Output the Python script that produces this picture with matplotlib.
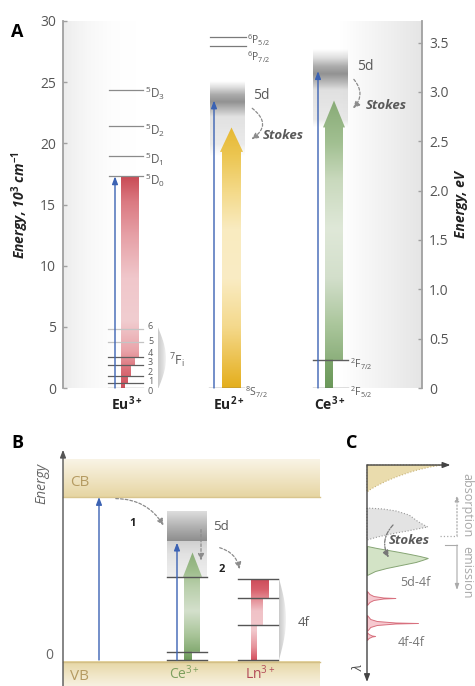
import numpy as np
import matplotlib
matplotlib.use('Agg')
import matplotlib.pyplot as plt
from matplotlib.patches import Polygon, FancyArrowPatch
from matplotlib.colors import to_rgba

plt.rcParams['font.family'] = ['Open Sans', 'DejaVu Sans']
plt.rcParams['mathtext.fontset'] = 'custom'
plt.rcParams['mathtext.rm'] = 'Open Sans'
plt.rcParams['mathtext.it'] = 'Open Sans:italic'
plt.rcParams['mathtext.bf'] = 'Open Sans:bold'

# ---------------------------------------------------------------- data
CM_PER_EV = 8.0655                       # 10^3 cm^-1 per eV
left_ticks = [0, 5, 10, 15, 20, 25, 30]
left_tick_labels = ['0', '5', '10', '15', '20', '25', '30']
right_ticks = [0, 0.5, 1.0, 1.5, 2.0, 2.5, 3.0, 3.5]
right_tick_labels = ['0', '0.5', '1.0', '1.5', '2.0', '2.5', '3.0', '3.5']

ion_labels_A = [r'Eu$^{\mathbf{3+}}$', r'Eu$^{\mathbf{2+}}$', r'Ce$^{\mathbf{3+}}$']

eu3_5D_levels = [17.3, 19.0, 21.4, 24.4]
eu3_5D_labels = [r'$^{5}$D$_{0}$', r'$^{5}$D$_{1}$', r'$^{5}$D$_{2}$', r'$^{5}$D$_{3}$']
eu3_7F_levels = [0.0, 0.4, 0.95, 1.85, 2.5, 3.75, 4.85]
eu3_7F_labels = ['0', '1', '2', '3', '4', '5', '6']

eu2_6P_levels = [28.7, 27.95]
eu2_6P_labels = [r'$^{6}$P$_{5/2}$', r'$^{6}$P$_{7/2}$']
eu2_ground = 0.0
eu2_ground_label = r'$^{8}$S$_{7/2}$'
eu2_5d_abs = 23.5
eu2_em_top = 21.3

ce_2F_levels = [0.0, 2.3]
ce_2F_labels = [r'$^{2}$F$_{5/2}$', r'$^{2}$F$_{7/2}$']
ce_5d_abs = 25.9
ce_em_top = 23.5

# panel B (schematic energies, arbitrary units)
B_gap = 10.0
B_cb_top = 12.3
B_ce_levels = [0.0, 0.5, 5.1]
B_ce_5d = [7.3, 9.1]
B_ce_abs = 7.2
B_ce_em = 6.6
B_ln_levels = [0.0, 2.15, 3.8, 5.0]

# panel C (wavelength, intensity)
tan_lam = [0, 2, 5, 8, 12, 16, 20, 24, 27]
tan_I = [0.93, 0.78, 0.62, 0.5, 0.36, 0.24, 0.14, 0.05, 0.0]
gray_lam = [43, 44, 46, 48, 50, 53, 56, 59, 62, 64, 66, 68, 70, 72, 75]
gray_I = [0.0, 0.2, 0.36, 0.44, 0.52, 0.57, 0.62, 0.68, 0.75, 0.62, 0.5, 0.36, 0.24, 0.13, 0.0]
green_lam = [81, 83, 85, 87, 89, 91, 93, 95, 97, 100, 103, 106, 110]
green_I = [0.0, 0.12, 0.26, 0.4, 0.53, 0.65, 0.75, 0.68, 0.6, 0.42, 0.24, 0.1, 0.0]
red1_lam = [126, 129, 131, 132.5, 133, 133.5, 135, 137, 140]
red1_I = [0.0, 0.03, 0.08, 0.2, 0.35, 0.2, 0.08, 0.03, 0.0]
red2_lam = [150, 154, 156, 157.5, 158, 158.5, 160, 162, 166]
red2_I = [0.0, 0.04, 0.12, 0.35, 0.63, 0.35, 0.12, 0.04, 0.0]
red3_lam = [167, 169, 170.5, 171, 171.5, 173, 175]
red3_I = [0.0, 0.02, 0.06, 0.1, 0.06, 0.02, 0.0]

# ---------------------------------------------------------------- helpers
W, H = 475, 686
fig = plt.figure(figsize=(W / 100, H / 100), dpi=100)


def fx(px):
    return px / W


def fy(py):
    return 1 - py / H


def grad(ax, x0, x1, y0, y1, stops, clip=None, z=2, horizontal=False):
    n = 300
    pos = np.array([p for p, _ in stops], float)
    cols = np.array([to_rgba(c) if not isinstance(c, tuple) else c for _, c in stops])
    if horizontal:
        vals = np.linspace(x0, x1, n)
        img = np.zeros((1, n, 4))
        for k in range(4):
            img[0, :, k] = np.interp(vals, pos, cols[:, k])
    else:
        vals = np.linspace(y0, y1, n)
        img = np.zeros((n, 1, 4))
        for k in range(4):
            img[:, 0, k] = np.interp(vals, pos, cols[:, k])
    im = ax.imshow(img, extent=(x0, x1, y0, y1), origin='lower', aspect='auto',
                   interpolation='bilinear', zorder=z)
    if clip is not None:
        p = Polygon(clip, closed=True, transform=ax.transData, fc='none', ec='none')
        im.set_clip_path(p)
    return im


def arrow(ax, x0, y0, x1, y1, color='#3b62b3', lw=1.0, ls='-', z=5, hl=0.45, hw=0.17):
    ax.annotate('', xy=(x1, y1), xytext=(x0, y0),
                arrowprops=dict(arrowstyle='-|>,head_length=%g,head_width=%g' % (hl, hw),
                                color=color, lw=lw, ls=ls, shrinkA=0, shrinkB=0),
                zorder=z, annotation_clip=False)


def curved(ax, p0, p1, rad, color='#8c8c8c', lw=0.9, ls=(0, (2.2, 1.6)), z=6):
    a = FancyArrowPatch(p0, p1, connectionstyle='arc3,rad=%g' % rad,
                        arrowstyle='-|>,head_length=4,head_width=1.8', mutation_scale=1,
                        color=color, lw=lw, linestyle=ls, zorder=z, clip_on=False)
    ax.add_patch(a)


def gray_a(a):
    return (0.42, 0.42, 0.42, a)


def arrow_poly(xl, xr, y0, yb, xhl, xhr, ytip, narrow=None):
    xc = (xhl + xhr) / 2
    pts = []
    if narrow is not None:
        nxr, ny = narrow
        pts += [(xl, y0), (nxr, y0), (nxr, ny), (xr, ny)]
    else:
        pts += [(xl, y0), (xr, y0)]
    pts += [(xr, yb), (xhr, yb), (xc, ytip), (xhl, yb), (xl, yb)]
    return pts


def bracket(ax, x0, ytop, ybot, bulge, z=2):
    t = np.linspace(0, 1, 40)
    xs = x0 + bulge * np.sin(np.pi * t)
    ys = ytop - (ytop - ybot) * t
    pts = list(zip(xs, ys))
    grad(ax, x0, x0 + bulge, ybot, ytop,
         [(x0, '#c9c9c9'), (x0 + bulge * 0.6, '#dedede'), (x0 + bulge, '#f4f4f4')],
         clip=pts, z=z, horizontal=True)


GRAY_TXT = '#5a5a5a'

# ================================================================ panel A
axA = fig.add_axes([fx(63), fy(388), (422 - 63) / W, (388 - 21) / H])
axA.patch.set_alpha(0)

# backgrounds
grad(axA, 63, 136, 0, 30, [(63, (0.93, 0.93, 0.93, 1)), (136, (1, 1, 1, 0))], z=0, horizontal=True)
grad(axA, 340, 422, 0, 30, [(340, (0.9, 0.9, 0.9, 0)), (422, (0.9, 0.9, 0.9, 1))], z=0, horizontal=True)

# --- Eu3+
for lv, lab in zip(eu3_5D_levels, eu3_5D_labels):
    axA.plot([109, 143], [lv, lv], color='#8a8a8a', lw=0.9, zorder=4)
    axA.text(145, lv - 0.3, lab, fontsize=8.5, color=GRAY_TXT, va='center', ha='left')

f7_label_pos = [-0.3, 0.5, 1.25, 2.05, 2.8, 3.8, 5.0]
step_right = [125, 128, 131, 135, 139]
red_pts = [(121, 0)]
for i, xr in enumerate(step_right):
    lo = eu3_7F_levels[i]
    hi = eu3_7F_levels[i + 1] if i + 1 < 5 else eu3_5D_levels[0]
    red_pts += [(xr, lo), (xr, hi)]
red_pts += [(121, eu3_5D_levels[0])]
grad(axA, 121, 139, 0, eu3_5D_levels[0],
     [(0, '#cf4f5b'), (1.5, '#db6f78'), (3, '#e9a3a9'), (5.5, '#f1cdd0'), (9, '#f0c7cb'),
      (12.5, '#e6a0a6'), (15.2, '#db7a82'), (17.3, '#c94b55')], clip=red_pts, z=3)

for i, (lv, lab) in enumerate(zip(eu3_7F_levels, eu3_7F_labels)):
    c = '#c4c4c4' if i >= 5 else '#5e5e5e'
    axA.plot([108, 143], [lv, lv], color=c, lw=0.9, zorder=4)
    axA.text(148, f7_label_pos[i], lab, fontsize=6.5, color=GRAY_TXT, ha='left', va='center')
bracket(axA, 158, eu3_7F_levels[-1] + 0.1, eu3_7F_levels[0] - 0.1, 8)
axA.text(169, 2.2, r'$^{7}$F$_{\mathrm{i}}$', fontsize=9, color=GRAY_TXT, ha='left', va='center')
arrow(axA, 115, 0, 115, eu3_5D_levels[0])

# --- Eu2+
for lv, lab, off in zip(eu2_6P_levels, eu2_6P_labels, [0.3, 0.9]):
    axA.plot([210, 246], [lv, lv], color='#7a7a7a', lw=0.9, zorder=4)
    axA.text(247, lv - off, lab, fontsize=7.5, color=GRAY_TXT, ha='left', va='center')
axA.plot([209, 244], [eu2_ground, eu2_ground], color='#6a6a6a', lw=1.0, zorder=4)
axA.text(245, eu2_ground - 0.35, eu2_ground_label, fontsize=7.5, color=GRAY_TXT, ha='left', va='center')
grad(axA, 210, 245, 19.0, 25.1,
     [(19.0, gray_a(0)), (20.0, gray_a(0.14)), (22.2, gray_a(0.2)), (22.8, gray_a(0.47)),
      (23.4, gray_a(0.74)), (24.0, gray_a(0.57)), (24.6, gray_a(0.22)), (25.1, gray_a(0))], z=2)
arrow(axA, 214, 0, 214, eu2_5d_abs)
grad(axA, 219, 244, 0, eu2_em_top,
     [(0, '#e4ae1c'), (2, '#ebbf48'), (5, '#f4d98c'), (9, '#faecc4'), (13, '#f9ebc0'),
      (16, '#f4da8a'), (19, '#ecc652'), (21.3, '#e6b832')],
     clip=arrow_poly(222, 241, 0, 19.3, 220, 243, eu2_em_top), z=3)
curved(axA, (250, 23.0), (249, 20.2), -0.75)
axA.text(253, 23.9, '5d', fontsize=10, color=GRAY_TXT, ha='left', va='center')
axA.text(263, 20.6, 'Stokes', fontsize=9.5, color=GRAY_TXT, ha='left', va='center',
         fontweight='bold', style='italic')

# --- Ce3+
grad(axA, 313, 348, 21.3, 27.6,
     [(21.3, gray_a(0)), (21.9, gray_a(0.15)), (24.3, gray_a(0.21)), (24.9, gray_a(0.47)),
      (25.6, gray_a(0.74)), (26.2, gray_a(0.57)), (26.9, gray_a(0.22)), (27.6, gray_a(0))], z=2)
grad(axA, 322, 346, 0, ce_em_top,
     [(0, '#6b995a'), (2.3, '#7ea66c'), (2.35, '#8db07d'), (5, '#a9c59a'), (9, '#d3dfcb'),
      (13, '#dfe8d8'), (17, '#c9d9bd'), (20, '#a2c092'), (23.5, '#88ab76')],
     clip=arrow_poly(325, 343, 0, 21.3, 323, 345, ce_em_top, narrow=(333, ce_2F_levels[1])), z=3)
for lv, lab in zip(ce_2F_levels, ce_2F_labels):
    axA.plot([313, 348], [lv, lv], color='#5e5e5e', lw=1.0, zorder=4)
    axA.text(350, lv - 0.35, lab, fontsize=7.5, color=GRAY_TXT, ha='left', va='center')
arrow(axA, 318, 0, 318, ce_5d_abs)
curved(axA, (352, 25.4), (351, 22.7), -0.5)
axA.text(357, 26.3, '5d', fontsize=10, color=GRAY_TXT, ha='left', va='center')
axA.text(366, 23.1, 'Stokes', fontsize=9.5, color=GRAY_TXT, ha='left', va='center',
         fontweight='bold', style='italic')

for xc, lab in zip([127, 229, 330], ion_labels_A):
    axA.text(xc, -1.25, lab, fontsize=10, fontweight='bold', color='#222', ha='center',
             va='center', clip_on=False)

axA.set_xlim(63, 422)
axA.set_ylim(0, 30)
for s in ['top', 'bottom', 'right']:
    axA.spines[s].set_visible(False)
axA.spines['left'].set_color('#a0a0a0')
axA.spines['left'].set_linewidth(1.3)
axA.set_xticks([])
axA.set_yticks(left_ticks)
axA.set_yticklabels(left_tick_labels)
axA.tick_params(axis='y', direction='in', length=3, width=1, color='#a0a0a0',
                labelcolor='#555', labelsize=10, pad=5)

axR = axA.twinx()
axR.set_ylim(0, 30 / CM_PER_EV)
for s in ['top', 'bottom', 'left']:
    axR.spines[s].set_visible(False)
axR.spines['right'].set_color('#a0a0a0')
axR.spines['right'].set_linewidth(1.3)
axR.set_yticks(right_ticks)
axR.set_yticklabels(right_tick_labels)
axR.tick_params(axis='y', direction='in', length=3, width=1, color='#a0a0a0',
                labelcolor='#555', labelsize=10, pad=5)

fig.text(fx(20), fy(205), r'Energy, 10$^{\mathbf{3}}$ cm$^{\mathbf{-1}}$', rotation=90,
         fontsize=10, fontweight='bold', style='italic', ha='center', va='center', color='#222')
fig.text(fx(461), fy(205), 'Energy, eV', rotation=90, fontsize=10, fontweight='bold',
         style='italic', ha='center', va='center', color='#222')
fig.text(fx(17), fy(32), 'A', fontsize=13, fontweight='bold', ha='center', va='center')
fig.text(fx(17), fy(443), 'B', fontsize=13, fontweight='bold', ha='center', va='center')
fig.text(fx(352), fy(443), 'C', fontsize=13, fontweight='bold', ha='center', va='center')

# ================================================================ panel B
U = 16.3
axB = fig.add_axes([0, 0, 330 / W, (686 - 430) / H])
axB.axis('off')
yB0, yB1 = (660 - 686) / U, (660 - 430) / U

grad(axB, 63, 320, yB0, -0.1, [(yB0, '#f7f1e1'), (-1.0, '#f1e7c9'), (-0.1, '#e6d6a4')], z=1)
axB.plot([63, 320], [-0.1, -0.1], color='#d3bf86', lw=1.0, zorder=2)
grad(axB, 63, 320, B_gap, B_cb_top, [(B_gap, '#e6d5a2'), (11.0, '#efe3c0'), (B_cb_top, '#f9f4e6')], z=1)
axB.plot([63, 320], [B_gap, B_gap], color='#d8c58e', lw=1.0, zorder=2)
arrow(axB, 63, yB0, 63, 12.9, color='#555', lw=1.0, z=6)
axB.text(42, 10.86, 'Energy', rotation=90, style='italic', color='#666', fontsize=10,
         ha='center', va='center')
axB.text(53, 0.25, '0', ha='right', va='center', color='#666', fontsize=10)
axB.text(70, 10.92, 'CB', color='#b59b62', fontsize=11, ha='left', va='center')
axB.text(70, -1.04, 'VB', color='#b59b62', fontsize=11, ha='left', va='center')

arrow(axB, 99, 0, 99, B_gap)
curved(axB, (113, 9.9), (165, 8.1), -0.3)
axB.text(133, 8.4, '1', fontsize=8, fontweight='bold', ha='center', va='center', color='#222')

grad(axB, 167, 207, B_ce_5d[0], B_ce_5d[1],
     [(B_ce_5d[0], '#8d8d8d'), (8.2, '#b3b3b3'), (B_ce_5d[1], '#dedede')], z=2)
grad(axB, 167, 207, B_ce_levels[2], B_ce_5d[0],
     [(B_ce_levels[2], '#efefef'), (6.5, '#e2e2e2'), (B_ce_5d[0], '#d0d0d0')], z=2)
grad(axB, 182, 203, 0, B_ce_em,
     [(0, '#6b995a'), (0.5, '#84aa72'), (1.5, '#a8c498'), (3.0, '#d4e0cc'), (4.5, '#b9cfab'),
      (5.5, '#9ebd8c'), (6.6, '#8aad78')],
     clip=arrow_poly(184, 200, 0, B_ce_levels[2], 183, 202, B_ce_em, narrow=(192, B_ce_levels[1])), z=3)
for lv in B_ce_levels:
    axB.plot([167, 207], [lv, lv], color='#555', lw=1.0, zorder=4)
arrow(axB, 177, 0, 177, B_ce_abs)
arrow(axB, 201, 8.0, 201, 6.1, color='#8c8c8c', lw=0.9, ls=(0, (2.2, 1.6)), hl=0.4, hw=0.18)
axB.text(213, 8.16, '5d', fontsize=9.5, color=GRAY_TXT, ha='left', va='center')
curved(axB, (217, 6.93), (240, 5.4), -0.35)
axB.text(222, 5.58, '2', fontsize=8, fontweight='bold', ha='center', va='center', color='#222')

ln_pts = [(251, 0), (257, 0), (257, B_ln_levels[1]), (263, B_ln_levels[1]), (263, B_ln_levels[2]),
          (269, B_ln_levels[2]), (269, B_ln_levels[3]), (251, B_ln_levels[3])]
grad(axB, 251, 269, 0, B_ln_levels[3],
     [(0, '#d4505e'), (0.8, '#e6949c'), (1.8, '#f2c8cc'), (3.0, '#f0c2c7'), (3.8, '#e3878f'),
      (4.3, '#d8606c'), (5.0, '#cc4a58')], clip=ln_pts, z=3)
for lv in B_ln_levels:
    axB.plot([238, 278], [lv, lv], color='#555', lw=1.0, zorder=4)
bracket(axB, 279, B_ln_levels[3], B_ln_levels[0], 7)
axB.text(298, 2.33, '4f', fontsize=9.5, color=GRAY_TXT, ha='left', va='center')
axB.text(185, -0.85, r'Ce$^{3+}$', color='#7d9f5e', fontsize=10, ha='center', va='center')
axB.text(260, -0.85, r'Ln$^{3+}$', color='#b24a58', fontsize=10, ha='center', va='center')

axB.set_xlim(0, 330)
axB.set_ylim(yB0, yB1)

# ================================================================ panel C
S = 81.0
axC = fig.add_axes([fx(330), 0, (475 - 330) / W, (686 - 430) / H])
axC.axis('off')

axC.fill_betweenx(tan_lam, 0, tan_I, facecolor='#eadcad', edgecolor='#c9b57c', lw=0.8, ls=':', zorder=2)
axC.fill_betweenx(gray_lam, 0, gray_I, facecolor='#e3e3e3', edgecolor='#9a9a9a', lw=0.8, ls=':', zorder=2)
axC.fill_betweenx(green_lam, 0, green_I, facecolor='#d3e3c6', edgecolor='#86a574', lw=0.7, zorder=2)
for lam, inten in [(red1_lam, red1_I), (red2_lam, red2_I), (red3_lam, red3_I)]:
    axC.fill_betweenx(lam, 0, inten, facecolor='#f6c9d0', edgecolor='#d8707e', lw=0.7, zorder=2)

arrow(axC, 0, 0, 0, 217, color='#444', lw=1.0, z=6)
arrow(axC, 0, 0, 1.03, 0, color='#444', lw=1.0, z=6)

xa = (457 - 367) / S
axC.plot([(440 - 367) / S, xa], [71, 71], ls=':', color='#aaa', lw=0.9)
arrow(axC, xa, 71, xa, 30, color='#aaa', lw=0.9, ls=':', hl=0.35, hw=0.12)
axC.plot([(445 - 367) / S, xa], [80, 80], color='#aaa', lw=0.8)
arrow(axC, xa, 80, xa, 125, color='#aaa', lw=0.8, hl=0.35, hw=0.12)
axC.text((467 - 367) / S, 505 - 465, 'absorption', rotation=-90, color='#a8a8a8', fontsize=9,
         ha='center', va='center')
axC.text((467 - 367) / S, 572 - 465, 'emission', rotation=-90, color='#a8a8a8', fontsize=9,
         ha='center', va='center')
axC.text((409 - 367) / S, 76, 'Stokes', fontsize=9.5, fontweight='bold', style='italic',
         color=GRAY_TXT, ha='center', va='center', zorder=7)
curved(axC, ((395 - 367) / S, 58), ((390 - 367) / S, 95), 0.4, color='#777', ls=(0, (3, 1.2, 1, 1.2)))
axC.text((415 - 367) / S, 118, '5d-4f', fontsize=9, color='#777', ha='center', va='center')
axC.text((411 - 367) / S, 177, '4f-4f', fontsize=9, color='#777', ha='center', va='center')
axC.text((358 - 367) / S, 202, r'$\lambda$', fontsize=9, color='#444', rotation=90,
         ha='center', va='center')

axC.set_xlim((330 - 367) / S, (475 - 367) / S)
axC.set_ylim(686 - 465, 430 - 465)

fig.savefig('out.png', dpi=100)
